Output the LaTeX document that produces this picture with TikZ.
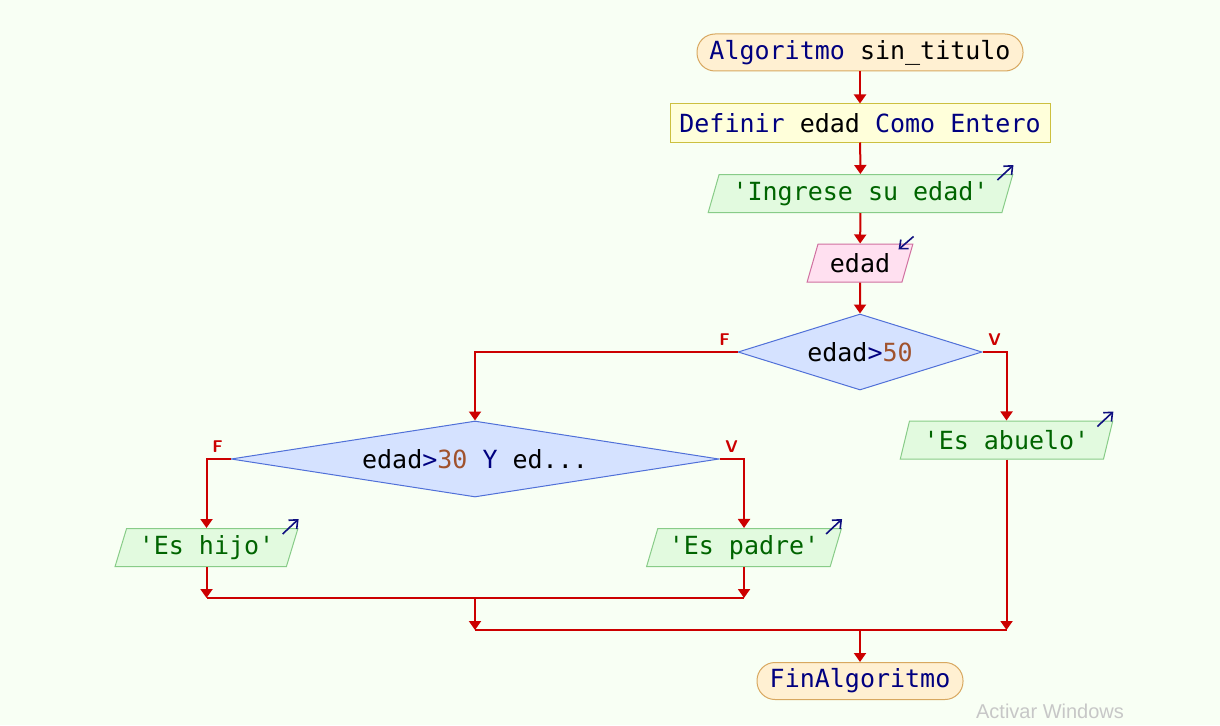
\documentclass[tikz,border=0pt]{standalone}
\usepackage{fontspec}
\setmonofont{DejaVu Sans Mono}
\newfontfamily\winfont{Liberation Sans}
\usetikzlibrary{shapes.geometric,arrows.meta}

\definecolor{bgc}{RGB}{248,255,244}
\definecolor{termf}{RGB}{255,240,210}
\definecolor{termd}{RGB}{216,168,96}
\definecolor{deff}{RGB}{255,255,218}
\definecolor{defd}{RGB}{204,192,64}
\definecolor{outf}{RGB}{226,250,223}
\definecolor{outd}{RGB}{136,204,136}
\definecolor{inf}{RGB}{255,224,240}
\definecolor{ind}{RGB}{208,112,160}
\definecolor{condf}{RGB}{213,226,255}
\definecolor{condd}{RGB}{80,112,216}
\definecolor{flowc}{RGB}{204,0,0}
\definecolor{kwc}{RGB}{0,0,128}
\definecolor{strc}{RGB}{0,100,0}
\definecolor{numc}{RGB}{160,82,45}
\definecolor{iconc}{RGB}{16,16,128}

\newcommand\kw[1]{\textcolor{kwc}{#1}}
\newcommand\nm[1]{\textcolor{numc}{#1}}

\begin{document}
\begin{tikzpicture}[x=0.5pt,y=-0.5pt,
    font=\ttfamily\fontsize{12.5}{15}\selectfont,
    term/.style={draw=termd,fill=termf,rounded corners=9pt,minimum
        height=18.5pt,inner sep=0pt,line width=0.5pt},
    defbox/.style={draw=defd,fill=deff,minimum height=19pt,inner
        sep=0pt,line width=0.5pt},
    io/.style={trapezium,trapezium left angle=68,trapezium right
        angle=112,trapezium stretches=true,minimum height=19pt,inner
        sep=0pt,line width=0.5pt},
    outbox/.style={io,draw=outd,fill=outf,text=strc},
    inbox/.style={io,draw=ind,fill=inf},
    cond/.style={diamond,draw=condd,fill=condf,inner sep=0pt,line
        width=0.5pt,minimum height=38pt},
    flow/.style={draw=flowc,line width=1pt,-{Triangle[width=6pt,length=4.5pt]}},
    line/.style={draw=flowc,line width=1pt},
    lbl/.style={text=flowc,font=\sffamily\bfseries\fontsize{8.5}{10}\selectfont},
    icon/.style={draw=iconc,line width=0.8pt,-{Straight Barb[length=3.5pt,width=6pt]}}]

    \fill[bgc] (0,0) rectangle (1220,725);

    % the blocks
    \node[term,minimum width=163pt] (start) at (860,52.5)
    {\kw{Algoritmo} sin\_titulo};
    \node[defbox,minimum width=190pt] (def) at (860,123)
    {\kw{Definir} edad \kw{Como Entero}};
    \node[outbox,minimum width=152.5pt] (ask) at (860.5,193.5)
    {'Ingrese su edad'};
    \node[inbox,minimum width=53pt] (read) at (860,263) {edad};
    \node[cond,minimum width=122pt,aspect=3.2] (c1) at (860,352)
    {edad\kw{>}\nm{50}};
    \node[outbox,minimum width=106.5pt] (abuelo) at (1006.5,440)
    {'Es abuelo'};
    \node[cond,minimum width=244pt,aspect=6.4] (c2) at (475,459)
    {edad\kw{>}\nm{30} \kw{Y} ed...};
    \node[outbox,minimum width=91.5pt] (hijo) at (206.5,547.5)
    {'Es hijo'};
    \node[outbox,minimum width=98pt] (padre) at (744,547.5)
    {'Es padre'};
    \node[term,minimum width=103pt] (fin) at (860,681)
    {\kw{FinAlgoritmo}};

    % joins
    \coordinate (j1) at (475,598);
    \coordinate (j2) at (860,630);

    % the flow
    \draw[flow] (start) -- (def);
    \draw[flow] (def) -- (ask);
    \draw[flow] (ask) -- (read);
    \draw[flow] (read) -- (c1);
    \draw[flow] (c1.west) -| (c2.north);
    \draw[flow] (c1.east) -| (abuelo.north);
    \draw[flow] (c2.west) -| (hijo.north);
    \draw[flow] (c2.east) -| (padre.north);
    \draw[flow] (hijo.south) -- (hijo.south |- j1);
    \draw[flow] (padre.south) -- (padre.south |- j1);
    \draw[line] (hijo.south |- j1) -- (padre.south |- j1);
    \draw[flow] (j1) -- (j1 |- j2);
    \draw[flow] (abuelo.south) -- (abuelo.south |- j2);
    \draw[line] (j1 |- j2) -- (abuelo.south |- j2);
    \draw[flow] (j2) -- (fin);

    % F / V marks
    \node[lbl] (f1) at ([shift={(-6.5pt,6pt)}]c1.west) {F};
    \node[lbl] (v1) at ([shift={(6pt,6pt)}]c1.east) {V};
    \node[lbl] (f2) at ([shift={(-6.5pt,6pt)}]c2.west) {F};
    \node[lbl] (v2) at ([shift={(6pt,6pt)}]c2.east) {V};

    % in/out marks
    \draw[icon] ([shift={(-8pt,-3pt)}]ask.top right corner) --
    ++(8pt,7.5pt);
    \draw[icon] ([shift={(-8pt,-3pt)}]abuelo.top right corner) --
    ++(8pt,7.5pt);
    \draw[icon] ([shift={(-8pt,-3pt)}]hijo.top right corner) --
    ++(8pt,7.5pt);
    \draw[icon] ([shift={(-8pt,-3pt)}]padre.top right corner) --
    ++(8pt,7.5pt);
    \draw[icon] ([shift={(0pt,3.5pt)}]read.top right corner) --
    ++(-7.5pt,-6.5pt);

    \node[text=black!22,font=\winfont\fontsize{10}{12}\selectfont]
    (win) at (1050,711) {Activar Windows};
  \end{tikzpicture}
\end{document}
